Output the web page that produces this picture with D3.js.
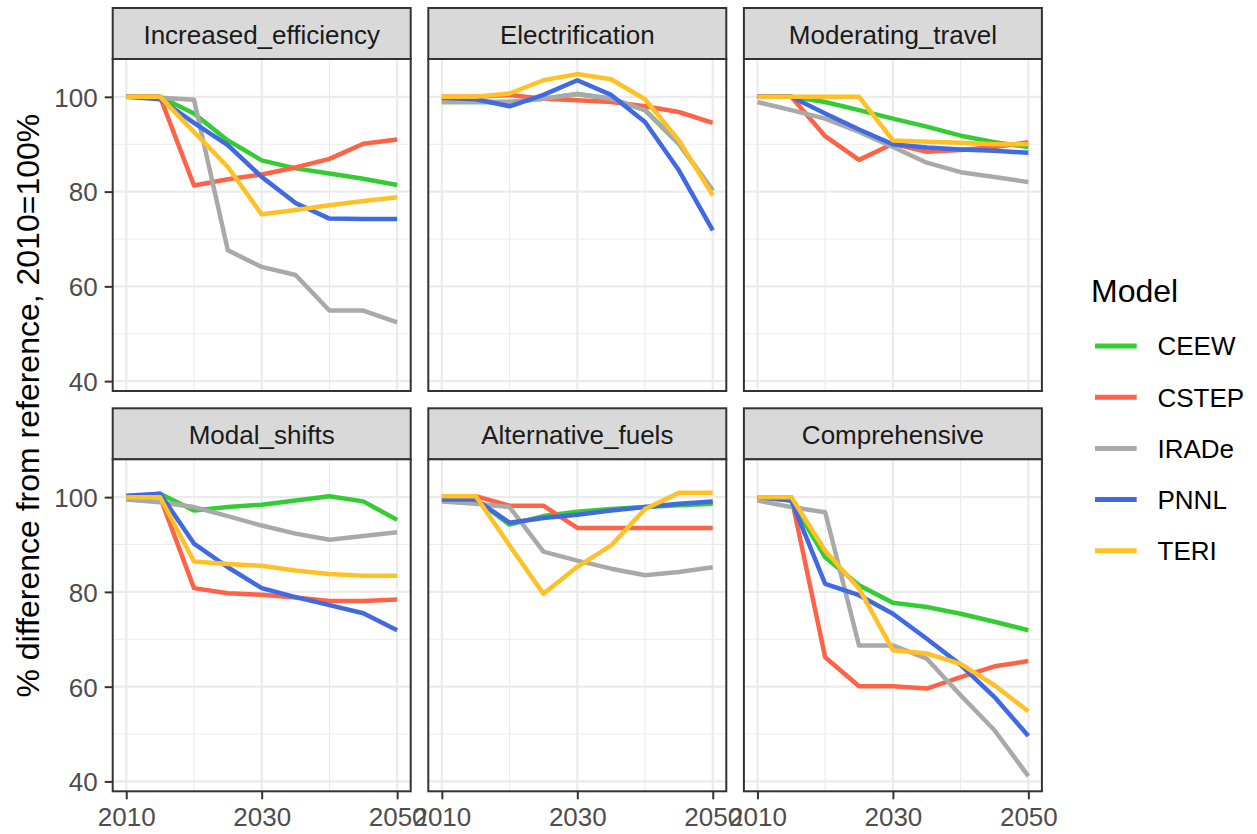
<!DOCTYPE html>
<html>
<head>
<meta charset="utf-8">
<script src="https://cdn.jsdelivr.net/npm/d3@7"></script>
<style>
  html, body { margin: 0; padding: 0; background: #ffffff; }
  svg { display: block; font-family: "Liberation Sans", Arial, sans-serif; }
</style>
</head>
<body>
<svg id="chart" width="1257" height="834"></svg>
<script>
// Transport scenario results, indexed to 2010 = 100%
const years = [2010, 2015, 2020, 2025, 2030, 2035, 2040, 2045, 2050];
const models = ["CEEW", "CSTEP", "IRADe", "PNNL", "TERI"];
const modelColors = ["#32CD32", "#FF6347", "#A9A9A9", "#4169E1", "#FFC125"];
const scenarios = ["Increased_efficiency", "Electrification", "Moderating_travel",
                   "Modal_shifts", "Alternative_fuels", "Comprehensive"];
const xTickValues = [2010, 2030, 2050];
const yTickValues = [40, 60, 80, 100];

// one row per model: CEEW, CSTEP, IRADe, PNNL, TERI
const increasedEfficiency = [
  [100, 100, 96.5, 90.8, 86.6, 84.9, 83.8, 82.7, 81.4],
  [100, 100, 81.3, 82.6, 83.6, 85.1, 86.9, 90.1, 91.0],
  [100, 99.8, 99.4, 67.6, 64.1, 62.4, 54.9, 54.9, 52.4],
  [100, 99.5, 94.5, 89.8, 83.1, 77.6, 74.3, 74.2, 74.2],
  [100, 100, 92.6, 85.2, 75.2, 76.1, 77.1, 78.0, 78.8]
];
const electrification = [
  [98.9, 98.9, 98.9, 99.6, 100.6, 99.6, 97.2, 90.1, 80.2],
  [100, 100, 100.4, 99.6, 99.3, 98.9, 98.0, 96.8, 94.5],
  [98.9, 98.9, 98.9, 99.6, 100.6, 99.6, 97.2, 90.1, 80.2],
  [99.8, 99.5, 98.0, 100.4, 103.5, 100.4, 94.7, 84.5, 71.8],
  [100, 100, 100.7, 103.5, 104.8, 103.7, 99.5, 90.8, 79.2]
];
const moderatingTravel = [
  [100, 100, 98.9, 97.2, 95.4, 93.7, 91.8, 90.4, 89.4],
  [100, 100, 91.7, 86.7, 90.1, 88.4, 88.8, 89.4, 90.4],
  [98.9, 97.2, 95.4, 92.6, 89.4, 86.1, 84.1, 83.1, 82.0],
  [100, 100, 96.5, 93.1, 90.0, 89.3, 88.9, 88.6, 88.2],
  [100, 100, 100, 100, 90.8, 90.5, 90.3, 90.0, 90.0]
];
const modalShifts = [
  [100, 100.7, 97.2, 97.9, 98.4, 99.3, 100.2, 99.1, 95.2],
  [100, 100, 80.8, 79.7, 79.4, 78.8, 78.1, 78.1, 78.4],
  [99.5, 98.9, 97.9, 96.0, 94.0, 92.3, 91.0, 91.8, 92.6],
  [100.3, 100.7, 90.2, 85.2, 80.8, 78.9, 77.2, 75.5, 71.9],
  [100, 100, 86.4, 85.9, 85.5, 84.5, 83.8, 83.4, 83.4]
];
const alternativeFuels = [
  [99.5, 99.5, 94.2, 96.0, 96.9, 97.5, 97.9, 98.3, 98.6],
  [100, 100.2, 98.2, 98.2, 93.5, 93.5, 93.5, 93.5, 93.5],
  [99.1, 98.6, 97.9, 88.5, 86.6, 84.9, 83.5, 84.2, 85.2],
  [99.5, 99.5, 94.6, 95.6, 96.3, 97.2, 97.9, 98.6, 99.1],
  [100.2, 100.2, 89.8, 79.6, 85.3, 89.8, 97.5, 100.9, 100.9]
];
const comprehensive = [
  [100, 99.3, 87.3, 81.4, 77.7, 76.8, 75.4, 73.7, 71.9],
  [100, 100, 66.2, 60.1, 60.1, 59.6, 62.0, 64.3, 65.4],
  [99.3, 97.9, 96.8, 68.7, 68.7, 65.9, 58.2, 50.8, 41.1],
  [100, 99.3, 81.7, 79.3, 75.4, 70.1, 64.6, 57.8, 49.6],
  [100, 100, 88.7, 80.7, 67.7, 67.0, 64.8, 60.3, 54.8]
];
const scenarioValues = [increasedEfficiency, electrification, moderatingTravel,
                        modalShifts, alternativeFuels, comprehensive];

// layout
const plotLeft = 112.7, panelW = 298, gapX = 17.6;
const rowTop = [8, 408.3], stripH = 51, panelH = 332;
const smallFont = 26, bigFont = 32;
const colors = d3.scaleOrdinal().domain(models).range(modelColors);

const svg = d3.select("#chart");

// shared scales with ggplot-style 5% expansion
const allVals = scenarioValues.flat(2);
const [vmin, vmax] = d3.extent(allVals);
const ypad = (vmax - vmin) * 0.05;
const xpad = (d3.max(years) - d3.min(years)) * 0.05;
const x = d3.scaleLinear().domain([d3.min(years) - xpad, d3.max(years) + xpad]).range([0, panelW]);
const y = d3.scaleLinear().domain([vmin - ypad, vmax + ypad]).range([panelH, 0]);

const line = d3.line()
  .x((d, i) => x(years[i]))
  .y(d => y(d));

const xMinor = [2020, 2040];
const yMinor = [50, 70, 90];

scenarios.forEach((name, k) => {
  const col = k % 3, row = Math.floor(k / 3);
  const px = plotLeft + col * (panelW + gapX);
  const sy = rowTop[row];
  const py = sy + stripH;

  // strip
  const strip = svg.append("g").attr("transform", `translate(${px},${sy})`);
  strip.append("rect").attr("width", panelW).attr("height", stripH)
    .attr("fill", "#D9D9D9").attr("stroke", "#333333").attr("stroke-width", 2);
  strip.append("text").attr("x", panelW / 2).attr("y", 36)
    .attr("text-anchor", "middle").attr("font-size", smallFont).attr("fill", "#1A1A1A")
    .text(name);

  const g = svg.append("g").attr("transform", `translate(${px},${py})`);
  g.append("rect").attr("width", panelW).attr("height", panelH).attr("fill", "#ffffff");

  // grid
  g.selectAll(".ymin").data(yMinor).join("line")
    .attr("x1", 0).attr("x2", panelW).attr("y1", d => y(d)).attr("y2", d => y(d))
    .attr("stroke", "#EBEBEB").attr("stroke-width", 1.1);
  g.selectAll(".xmin").data(xMinor).join("line")
    .attr("y1", 0).attr("y2", panelH).attr("x1", d => x(d)).attr("x2", d => x(d))
    .attr("stroke", "#EBEBEB").attr("stroke-width", 1.1);
  g.selectAll(".ymaj").data(yTickValues).join("line")
    .attr("x1", 0).attr("x2", panelW).attr("y1", d => y(d)).attr("y2", d => y(d))
    .attr("stroke", "#EBEBEB").attr("stroke-width", 2.2);
  g.selectAll(".xmaj").data(xTickValues).join("line")
    .attr("y1", 0).attr("y2", panelH).attr("x1", d => x(d)).attr("x2", d => x(d))
    .attr("stroke", "#EBEBEB").attr("stroke-width", 2.2);

  // series
  g.selectAll(".series").data(scenarioValues[k]).join("path")
    .attr("d", d => line(d))
    .attr("fill", "none")
    .attr("stroke", (d, i) => colors(models[i]))
    .attr("stroke-width", 4.5)
    .attr("stroke-linejoin", "round");

  // border
  g.append("rect").attr("width", panelW).attr("height", panelH)
    .attr("fill", "none").attr("stroke", "#333333").attr("stroke-width", 2);

  // y axis on the first column
  if (col === 0) {
    const ya = d3.axisLeft(y).tickValues(yTickValues).tickSize(8).tickPadding(7);
    const ag = g.append("g").call(ya);
    ag.select(".domain").remove();
    ag.selectAll(".tick line").attr("stroke", "#333333").attr("stroke-width", 2);
    ag.selectAll(".tick text").attr("font-size", smallFont).attr("fill", "#4D4D4D")
      .attr("font-family", "Liberation Sans, Arial, sans-serif")
      .attr("dy", "0.36em");
  }
  // x axis on the bottom row
  if (row === 1) {
    const xa = d3.axisBottom(x).tickValues(xTickValues).tickFormat(d3.format("d"))
      .tickSize(8).tickPadding(8);
    const ag = g.append("g").attr("transform", `translate(0,${panelH})`).call(xa);
    ag.select(".domain").remove();
    ag.selectAll(".tick line").attr("stroke", "#333333").attr("stroke-width", 2);
    ag.selectAll(".tick text").attr("font-size", smallFont).attr("fill", "#4D4D4D")
      .attr("font-family", "Liberation Sans, Arial, sans-serif");
  }
});

// y-axis title
const areaTop = rowTop[0], areaBottom = rowTop[1] + stripH + panelH;
svg.append("text")
  .attr("transform", `translate(38.5,${(areaTop + areaBottom) / 2 + 6}) rotate(-90)`)
  .attr("text-anchor", "middle").attr("font-size", bigFont).attr("fill", "#000000")
  .text("% difference from reference, 2010=100%");

// legend
const legend = svg.append("g").attr("transform", "translate(1091,0)");
legend.append("text").attr("x", 0).attr("y", 301.5).attr("font-size", bigFont)
  .attr("fill", "#000000").text("Model");
const items = legend.selectAll(".item").data(models).join("g")
  .attr("transform", (d, i) => `translate(0,${346 + i * 51.2})`);
items.append("line").attr("x1", 4).attr("x2", 45.7).attr("y1", 0).attr("y2", 0)
  .attr("stroke", d => colors(d)).attr("stroke-width", 5);
items.append("text").attr("x", 66.5).attr("y", 9.3).attr("font-size", smallFont)
  .attr("fill", "#000000").text(d => d);
</script>
</body>
</html>
